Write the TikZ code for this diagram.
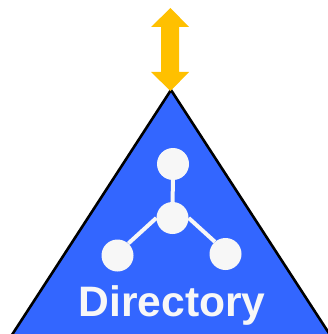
\documentclass[tikz,border=0pt]{standalone}
\usepackage{fontspec}
\setmainfont{Liberation Sans}
\definecolor{dirblue}{HTML}{3366FF}
\definecolor{dirwhite}{HTML}{F7F7F7}
\definecolor{arrowgold}{HTML}{FFC000}
\tikzset{
  px/.style={x=1pt,y=-1pt},
  hub/.style={circle,fill=dirwhite,draw=none,minimum size=32pt,inner sep=0pt},
  spoke/.style={draw=dirwhite,line width=4pt},
  tri/.style={fill=dirblue,draw=black,line width=2.6pt,line join=miter},
  dbl/.style={fill=arrowgold,draw=none},
  lab/.style={text=dirwhite,font=\fontsize{42.6}{46}\selectfont\bfseries,inner sep=0pt,anchor=base}
}
\begin{document}
\begin{tikzpicture}[px]
\useasboundingbox (0,0) rectangle (328,334);
\clip (0,0) rectangle (328,334);
\path[tri] (171,90) -- (-5,361) -- (347,361) -- cycle;
\path[dbl] (170.5,8) -- (189,27) -- (179,27) -- (179,72) -- (189,72) -- (170.5,91) -- (151,72) -- (161,72) -- (161,27) -- (151,27) -- cycle;
\node[hub] (top) at (173,164) {};
\node[hub] (mid) at (172.5,218) {};
\node[hub] (left) at (117.5,255.5) {};
\node[hub] (right) at (225.5,254) {};
\draw[spoke] (top) -- (mid);
\draw[spoke] (mid.180) -- (left.48);
\draw[spoke] (mid.0) -- (right.131);
\node[lab] (label) at (172,316) {Directory};
\end{tikzpicture}
\end{document}
